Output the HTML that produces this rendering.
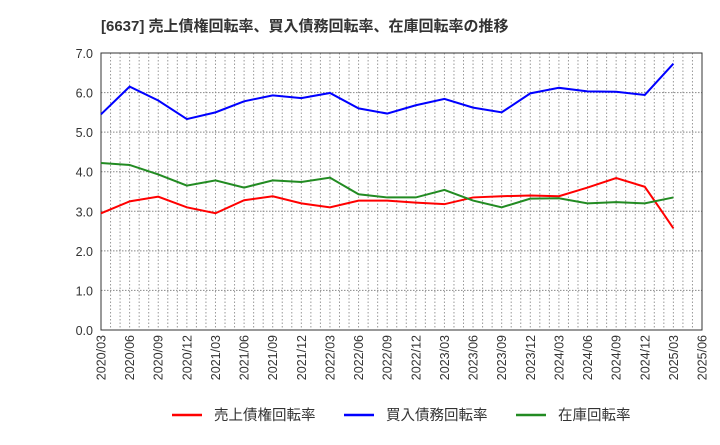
<!DOCTYPE html>
<html><head><meta charset="utf-8"><style>
body{margin:0;background:#fff;width:720px;height:440px;overflow:hidden;font-family:"Liberation Sans","Noto Sans CJK JP",sans-serif}
</style></head><body>
<svg id="chart" width="720" height="440" xmlns="http://www.w3.org/2000/svg" font-family="Liberation Sans, Noto Sans CJK JP, sans-serif">
<text x="101" y="31" font-size="15" font-weight="bold" fill="#333">[6637]  売上債権回転率、買入債務回転率、在庫回転率の推移</text>
<g id="grid"></g><g id="axes"></g><g id="series"></g><g id="legend"></g>
</svg>
<script>
const xLabels=["2020/03","2020/06","2020/09","2020/12","2021/03","2021/06","2021/09","2021/12","2022/03","2022/06","2022/09","2022/12","2023/03","2023/06","2023/09","2023/12","2024/03","2024/06","2024/09","2024/12","2025/03","2025/06"];
const yTicks=[0,1,2,3,4,5,6,7];
const blueVals=[5.45,6.15,5.8,5.33,5.5,5.78,5.93,5.86,5.99,5.6,5.47,5.68,5.84,5.62,5.5,5.98,6.12,6.03,6.02,5.94,6.73];
const greenVals=[4.22,4.17,3.93,3.65,3.78,3.6,3.78,3.74,3.85,3.43,3.35,3.35,3.54,3.27,3.1,3.32,3.33,3.2,3.23,3.2,3.35];
const redVals=[2.95,3.25,3.37,3.1,2.95,3.28,3.38,3.2,3.1,3.27,3.27,3.22,3.18,3.35,3.38,3.4,3.38,3.6,3.84,3.62,3.1,2.57];
const redMonths=[0,3,6,9,12,15,18,21,24,27,30,33,36,39,42,45,48,51,54,57,58.5,60];
const L=101,R=702,T=53,B=330,NM=63;
const xs=m=>L+(R-L)*m/NM, ys=v=>B-(B-T)*v/7;
const NS="http://www.w3.org/2000/svg";
function mk(t,a,p){const e=document.createElementNS(NS,t);for(const k in a)e.setAttribute(k,a[k]);p.appendChild(e);return e;}
const grid=document.getElementById('grid'),axes=document.getElementById('axes'),ser=document.getElementById('series'),leg=document.getElementById('legend');
for(let m=1;m<NM;m++){const g=mk('line',{x1:xs(m),x2:xs(m),y1:T,y2:B,stroke:'#999','stroke-dasharray':'1.5,2','stroke-width':1},grid);

}
yTicks.forEach(v=>{if(v>0&&v<7){const g=mk('line',{x1:L,x2:R,y1:ys(v),y2:ys(v),stroke:'#888','stroke-dasharray':'1.5,1.5','stroke-width':1},grid);

}
const t=mk('text',{x:L-8,y:ys(v)+5,'text-anchor':'end','font-size':12.5,fill:'#333'},axes);t.textContent=v.toFixed(1);

});
const fr=mk('rect',{x:L,y:T,width:R-L,height:B-T,fill:'none',stroke:'#333','stroke-width':1},axes);


xLabels.forEach((s,i)=>{const x=xs(i*3);const t=mk('text',{transform:`translate(${x+4.5},335) rotate(-90)`,'text-anchor':'end','font-size':12.5,fill:'#333'},axes);t.textContent=s;

});
function line(vals,months,color,name){const p=mk('polyline',{points:vals.map((v,i)=>xs(months[i])+','+ys(v)).join(' '),fill:'none',stroke:color,'stroke-width':2},ser);

}
const q=blueVals.map((_,i)=>i*3);
line(redVals,redMonths,'#ff0000','receivables-turnover-line');
line(blueVals,q,'#0000ff','payables-turnover-line');
line(greenVals,q,'#228B22','inventory-turnover-line');
[["売上債権回転率","#ff0000",172,"legend-receivables"],["買入債務回転率","#0000ff",344,"legend-payables"],["在庫回転率","#228B22",516,"legend-inventory"]].forEach(([s,c,x,n])=>{
const g=mk('g',{},leg);


mk('line',{x1:x,x2:x+30,y1:415,y2:415,stroke:c,'stroke-width':2.5},g);
const t=mk('text',{x:x+42,y:420,'font-size':14.5,fill:'#333'},g);t.textContent=s;});
</script>
</body></html>
